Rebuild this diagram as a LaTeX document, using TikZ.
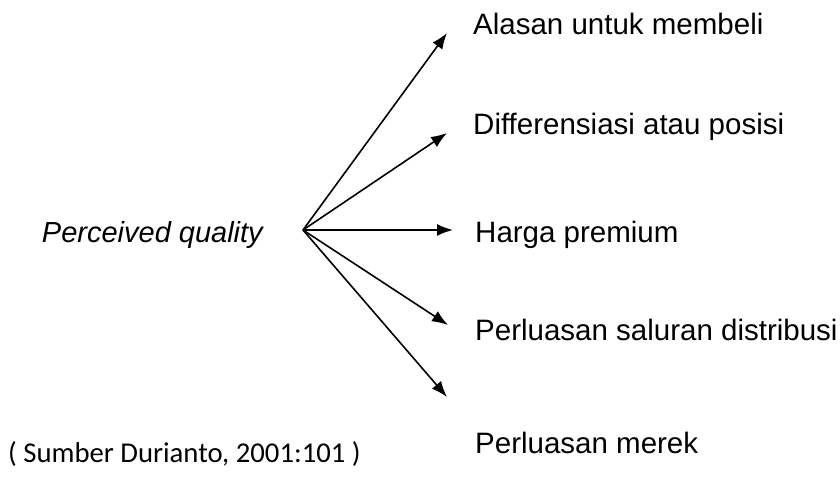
\documentclass[tikz,border=0pt]{standalone}
\usepackage{fontspec}
\setmainfont{Liberation Sans}
\newfontfamily\srcfont{Carlito}
\usetikzlibrary{arrows.meta}
\usetikzlibrary{positioning}
\tikzset{
effect/.style = { anchor = base west, inner sep = 0pt, font = \fontsize{29.5}{34}\selectfont },
quality/.style = { anchor = base east, inner sep = 0pt, font = \fontsize{29}{34}\selectfont\itshape },
source/.style = { anchor = base west, inner sep = 0pt, font = \fontsize{28.7}{34}\selectfont\srcfont },
link/.style = { draw = black, line width = 1.6pt, -{Latex[length = 16pt, width = 12pt]} },
}
\begin{document}
\begin{tikzpicture}[x = 1pt, y = 1pt]
    \useasboundingbox (0, 0) rectangle (840, 477);
    \node[quality] (pq) at (263, 234) {Perceived quality};
    \coordinate (hub) at (303, 247);
    \node[effect] (alasan) at (473, 442) {Alasan untuk membeli};
    \node[effect] (diff) at (473, 342) {Differensiasi atau posisi};
    \node[effect] (harga) at (475, 234) {Harga premium};
    \node[effect] (saluran) at (475, 137) {Perluasan saluran distribusi};
    \node[effect] (merek) at (475, 24) {Perluasan merek};
    \node[source] (sumber) at (8, 15) {( Sumber Durianto, 2001:101 )};
    % arrow tips
    \coordinate (t1) at (447, 444);
    \coordinate (t2) at (447, 344);
    \coordinate (t3) at (453, 247);
    \coordinate (t4) at (448, 152);
    \coordinate (t5) at (447, 80);
    \foreach \t in {t1, t2, t3, t4, t5}
        \draw[link] (hub) -- (\t);
\end{tikzpicture}
\end{document}
